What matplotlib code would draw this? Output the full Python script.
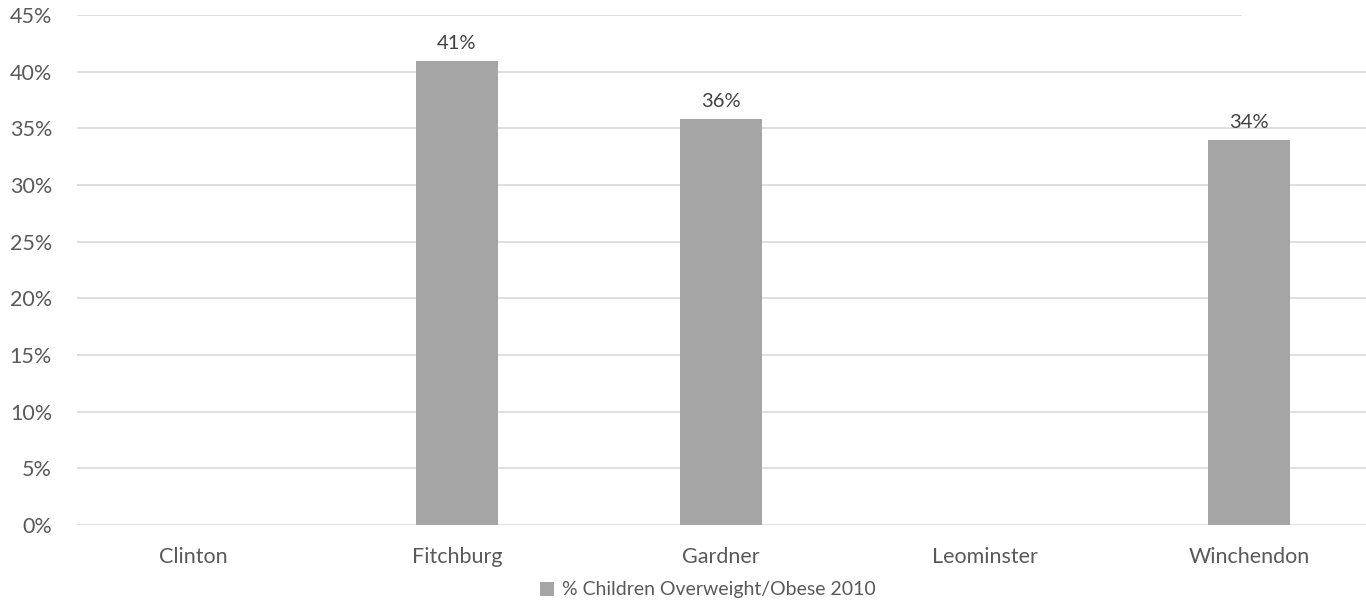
import matplotlib.pyplot as plt
import numpy as np

cities = ['Clinton', 'Fitchburg', 'Gardner', 'Leominster', 'Winchendon']
pct_overweight = [np.nan, 0.409, 0.358, np.nan, 0.34]
bar_labels = ['', '41%', '36%', '', '34%']
yticks = [0, 0.05, 0.10, 0.15, 0.20, 0.25, 0.30, 0.35, 0.40, 0.45]

plt.rcParams['font.family'] = ['Lato', 'DejaVu Sans']
txt = '#595959'
bar_c = '#a5a5a5'

fig = plt.figure(figsize=(13.66, 6.1), dpi=100)
# axes runs a bit past the right edge, like the cropped original
ax = fig.add_axes([77/1366, (610-525)/610, (1381-77)/1366, 510/610])

x = np.arange(len(cities))
bars = ax.bar(x, pct_overweight, width=0.31, color=bar_c, zorder=3,
              label='% Children Overweight/Obese 2010')
for xi, v, lab in zip(x, pct_overweight, bar_labels):
    if lab:
        ax.text(xi, v + 0.008, lab, ha='center', va='bottom', fontsize=14.5, color='#404040')

ax.set_xlim(-0.439, 4.5)
ax.set_ylim(0, 0.45)
ax.set_yticks(yticks)
ax.set_yticklabels([f'{int(round(t*100))}%' for t in yticks])
for t in yticks:
    xmax = (1241-77)/1304 if t == 0.45 else 1
    ax.axhline(t, xmin=0, xmax=xmax, color='#d9d9d9', lw=1.2, zorder=1)
ax.set_xticks(x)
ax.set_xticklabels(cities)
ax.tick_params(axis='both', length=0, colors=txt, labelsize=15.5)
ax.tick_params(axis='y', pad=18)
ax.tick_params(axis='x', pad=16)
for s in ax.spines.values():
    s.set_visible(False)

fig.legend(handles=[bars], loc='center', bbox_to_anchor=(708/1366, 1-590/610),
           frameon=False, fontsize=14, labelcolor=txt, handlelength=0.7,
           handleheight=0.7, handletextpad=0.4)

fig.savefig('out.png', dpi=100)
